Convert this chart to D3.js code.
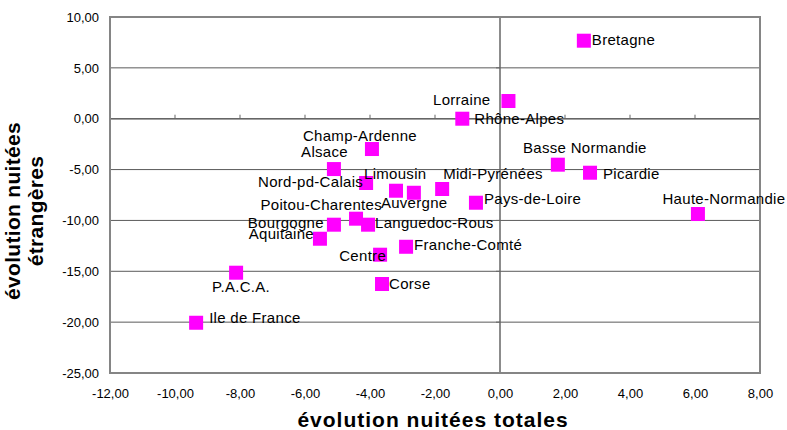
<!DOCTYPE html>
<html>
<head>
<meta charset="utf-8">
<style>
	body { margin: 0; background: #fff; }
	svg { display: block; font-family: "Liberation Sans", Arial, sans-serif; }
	.tick text { font-size: 13px; fill: #000; }
	.lbl { font-size: 15px; letter-spacing: 0.3px; fill: #000; }
	.title { font-size: 21px; font-weight: bold; fill: #000; }
</style>
</head>
<body>
<svg width="787" height="430"></svg>
<script src="https://d3js.org/d3.v7.min.js"></script>
<script>

	// Data.
	var regions = ["Bretagne", "Lorraine", "Rhône-Alpes", "Basse Normandie", "Picardie",
		"Haute-Normandie", "Midi-Pyrénées", "Pays-de-Loire", "Champ-Ardenne", "Alsace",
		"Nord-pd-Calais", "Limousin", "Auvergne", "Poitou-Charentes", "Languedoc-Rous",
		"Bourgogne", "Aquitaine", "Franche-Comté", "Centre", "Corse", "P.A.C.A.", "Ile de France"];
	var nuiteesTotales = [2.58, 0.26, -1.16, 1.78, 2.77,
		6.09, -1.78, -0.74, -3.94, -5.11,
		-4.12, -3.20, -2.65, -4.43, -4.06,
		-5.11, -5.54, -2.89, -3.69, -3.63, -8.12, -9.35];
	var nuiteesEtrangeres = [7.67, 1.74, 0.00, -4.52, -5.31,
		-9.37, -6.91, -8.26, -2.98, -4.95,
		-6.32, -7.08, -7.28, -9.83, -10.42,
		-10.42, -11.80, -12.59, -13.37, -16.25, -15.14, -20.06];
	var xTicks = [-12, -10, -8, -6, -4, -2, 0, 2, 4, 6, 8];
	var yTicks = [10, 5, 0, -5, -10, -15, -20, -25];

	// Where each label sits relative to its marker: [anchor, dx, dy].
	var labelPos = {
		"Bretagne": ["start", 8, 4],
		"Lorraine": ["end", -18, 4],
		"Rhône-Alpes": ["start", 12, 5.5],
		"Basse Normandie": ["middle", 27, -12],
		"Picardie": ["start", 13, 6.5],
		"Haute-Normandie": ["middle", 26, -10],
		"Midi-Pyrénées": ["start", 1, -10],
		"Pays-de-Loire": ["start", 8, 1.5],
		"Champ-Ardenne": ["middle", -12, -8.5],
		"Alsace": ["end", 14, -12.5],
		"Nord-pd-Calais": ["end", -3, 4.5],
		"Limousin": ["start", -32, -11.5],
		"Auvergne": ["start", -33, 15.5],
		"Poitou-Charentes": ["end", 26, -8.7],
		"Languedoc-Rous": ["start", 7, 3.5],
		"Bourgogne": ["end", -10, 3],
		"Aquitaine": ["end", -6, 0.5],
		"Franche-Comté": ["start", 8, 3.5],
		"Centre": ["end", 6, 6],
		"Corse": ["start", 7, 4.5],
		"P.A.C.A.": ["middle", 5, 19],
		"Ile de France": ["start", 13, 0.5]
	};

	var svg = d3.select("svg"),
		plotL = 110, plotR = 760, plotT = 17, plotB = 373,
		sq = 14;

	var x = d3.scaleLinear().domain([-12, 8]).range([plotL, plotR]);
	var y = d3.scaleLinear().domain([-25, 10]).range([plotB, plotT]);

	var fr = d3.formatLocale({decimal: ",", thousands: " ", grouping: [3], currency: ["", " €"], minus: "-"});
	var fmt = fr.format(".2f");

	// Horizontal gridlines.
	svg.append("g")
		.selectAll("line")
		.data(yTicks.filter(function(d) { return d != 10 && d != -25; }))
		.enter().append("line")
			.attr("x1", plotL).attr("x2", plotR)
			.attr("y1", function(d) { return y(d); })
			.attr("y2", function(d) { return y(d); })
			.style("stroke", "#5a5a5a")
			.style("stroke-width", 1);

	// Axis lines through zero, with small tick marks.
	var axes = svg.append("g").style("stroke", "#666");
	axes.append("line")
		.attr("x1", plotL).attr("x2", plotR)
		.attr("y1", y(0)).attr("y2", y(0))
		.style("stroke-width", 1.5);
	axes.append("line")
		.attr("x1", x(0)).attr("x2", x(0))
		.attr("y1", plotT).attr("y2", plotB)
		.style("stroke-width", 1.5);
	axes.selectAll(".xt")
		.data(xTicks)
		.enter().append("line")
			.attr("x1", function(d) { return x(d); })
			.attr("x2", function(d) { return x(d); })
			.attr("y1", y(0) - 4).attr("y2", y(0));
	axes.selectAll(".yt")
		.data(yTicks)
		.enter().append("line")
			.attr("x1", x(0) - 4).attr("x2", x(0))
			.attr("y1", function(d) { return y(d); })
			.attr("y2", function(d) { return y(d); });

	// Plot border.
	svg.append("rect")
		.attr("x", plotL).attr("y", plotT)
		.attr("width", plotR - plotL).attr("height", plotB - plotT)
		.style("fill", "none")
		.style("stroke", "#858585")
		.style("stroke-width", 2);

	// Tick labels through d3 axes.
	var xAxis = svg.append("g")
		.attr("transform", "translate(0," + (plotB + 16) + ")")
		.call(d3.axisBottom(x).tickValues(xTicks).tickFormat(fmt).tickSize(0).tickPadding(0));
	xAxis.select(".domain").remove();

	var yAxis = svg.append("g")
		.attr("transform", "translate(" + (plotL - 11) + ",0)")
		.call(d3.axisLeft(y).tickValues(yTicks).tickFormat(fmt).tickSize(0).tickPadding(0));
	yAxis.select(".domain").remove();
	svg.selectAll(".tick text")
		.style("font-family", "Liberation Sans, Arial, sans-serif")
		.style("font-size", "13px");

	// Axis titles.
	svg.append("text")
		.attr("class", "title")
		.attr("x", 433).attr("y", 427)
		.attr("text-anchor", "middle")
		.style("letter-spacing", "1px")
		.text("évolution nuitées totales");

	var yt = svg.append("text")
		.attr("class", "title")
		.attr("transform", "translate(20,211) rotate(-90)")
		.attr("text-anchor", "middle")
		.style("letter-spacing", "0.3px");
	yt.append("tspan").attr("x", 0).attr("y", 0).text("évolution nuitées");
	yt.append("tspan").attr("x", 0).attr("y", 23).text("étrangères");

	// Markers.
	var pts = regions.map(function(r, i) { return {name: r, x: nuiteesTotales[i], y: nuiteesEtrangeres[i]}; });

	svg.append("g")
		.selectAll("rect")
		.data(pts)
		.enter().append("rect")
			.attr("x", function(d) { return x(d.x) - sq / 2; })
			.attr("y", function(d) { return y(d.y) - sq / 2; })
			.attr("width", sq).attr("height", sq)
			.style("fill", "#ff00ff");

	// Labels on top.
	svg.append("g")
		.selectAll("text")
		.data(pts)
		.enter().append("text")
			.attr("class", "lbl")
			.attr("text-anchor", function(d) { return labelPos[d.name][0]; })
			.attr("x", function(d) { return x(d.x) + labelPos[d.name][1]; })
			.attr("y", function(d) { return y(d.y) + labelPos[d.name][2]; })
			.text(function(d) { return d.name; });

</script>
</body>
</html>
